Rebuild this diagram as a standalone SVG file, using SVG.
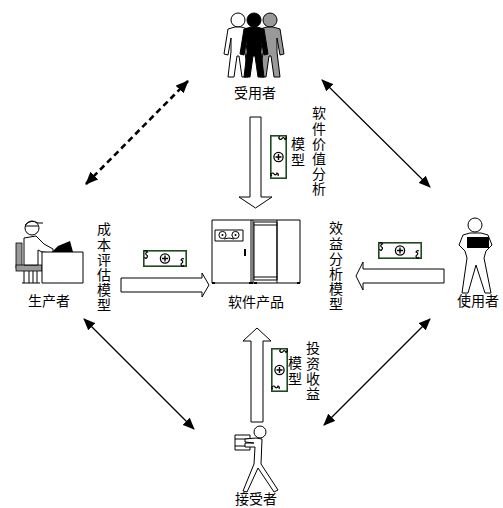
<svg xmlns="http://www.w3.org/2000/svg" xmlns:xlink="http://www.w3.org/1999/xlink" width="503" height="508" viewBox="0 0 503 508">
  <style>
    .lbl { font-family: "Noto Sans CJK SC", "Noto Sans", sans-serif; font-size: 14px; fill: #000; }
    .mid { text-anchor: middle; }
    .vert { writing-mode: vertical-rl; text-anchor: start; letter-spacing: 1.2px; }
    .ln { fill: none; stroke: #000; stroke-width: 1.2; }
    .dash { fill: none; stroke: #000; stroke-width: 2.6; stroke-dasharray: 6 4; }
    .hollow { fill: #fff; stroke: #000; stroke-width: 1; }
    .fig { stroke: #000; stroke-width: 1; stroke-linejoin: round; }
  </style>
  <defs>
    <marker id="tip" viewBox="0 0 12 10" refX="11" refY="5" markerWidth="12" markerHeight="10" markerUnits="userSpaceOnUse" orient="auto-start-reverse">
      <path d="M0,0 L12,5 L0,10 Z" fill="#000"/>
    </marker>
    <marker id="tipBig" viewBox="0 0 13 11" refX="12" refY="5.5" markerWidth="13" markerHeight="11" markerUnits="userSpaceOnUse" orient="auto-start-reverse">
      <path d="M0,0 L13,5.5 L0,11 Z" fill="#000"/>
    </marker>
    <!-- banknote, 44 x 17 -->
    <g id="bill">
      <rect x="0.8" y="0.8" width="42.4" height="15.4" fill="#fff" stroke="#1f4a1f" stroke-width="1.6"/>
      <circle cx="22" cy="8.5" r="4.6" fill="#fff" stroke="#000" stroke-width="1.3"/>
      <path d="M22,5.5 V11.5 M19,8.5 H25" stroke="#000" stroke-width="1.4"/>
      <path d="M1.5,1 q2,-1 3,1 q-3,1 -1,3 q2,1 0,3 q-1,1 -2,-1" fill="none" stroke="#000" stroke-width="1.2"/>
      <path d="M41,9 q-2,-1 -3,1 q3,1 1,3 q-2,1 0,3 q1,1 2,-1" fill="none" stroke="#000" stroke-width="1.2"/>
    </g>
    <!-- standing figure, head centre at 0,0 -->
    <path id="stander" d="M-3,7 L3,7 L10,9 L14,34 L10,35 L7,18 L7,32 L10,57 L4,57 L1,36 L-1,36 L-4,57 L-10,57 L-7,32 L-7,18 L-10,35 L-14,34 L-10,9 Z"/>
  </defs>

  <!-- connectors -->
  <g id="connectors">
    <line class="dash" x1="86" y1="184" x2="188" y2="81" marker-start="url(#tipBig)" marker-end="url(#tipBig)"/>
    <line class="ln" x1="322" y1="80" x2="430" y2="187" marker-start="url(#tip)" marker-end="url(#tip)"/>
    <line class="ln" x1="84" y1="319" x2="194" y2="429" marker-start="url(#tip)" marker-end="url(#tip)"/>
    <line class="ln" x1="430" y1="319" x2="324" y2="425" marker-start="url(#tip)" marker-end="url(#tip)"/>

    <!-- hollow flow arrows -->
    <path class="hollow" d="M250,117 H261 V197 H272 L255.5,208 L239,197 H250 Z"/>
    <path class="hollow" d="M251,422 H263 V341 H271 L257,328 L243,341 H251 Z"/>
    <path class="hollow" d="M121,278 H202 V273 L209,285 L202,297 V292 H121 Z"/>
    <path class="hollow" d="M444,269 H363 V262 L356,276 L363,290 V283 H444 Z"/>

    <!-- banknotes -->
    <use xlink:href="#bill" transform="translate(287,135) rotate(90)"/>
    <use xlink:href="#bill" transform="translate(288,348) rotate(90)"/>
    <use xlink:href="#bill" transform="translate(143,250)"/>
    <use xlink:href="#bill" transform="translate(378,242)"/>

    <!-- flow labels -->
    <text class="lbl vert" x="319" y="106">软件价值分析</text>
    <text class="lbl vert" x="298" y="137">模型</text>
    <text class="lbl vert" x="104" y="222">成本评估模型</text>
    <text class="lbl vert" x="336" y="221">效益分析模型</text>
    <text class="lbl vert" x="313" y="341">投资收益</text>
    <text class="lbl vert" x="295" y="356">模型</text>
  </g>

  <!-- customers (top) -->
  <g id="customers">
    <g transform="translate(270,20)">
      <circle class="fig" r="7" fill="#999"/>
      <use xlink:href="#stander" class="fig" fill="#999"/>
    </g>
    <g transform="translate(238,20)">
      <circle class="fig" r="7" fill="#fff"/>
      <use xlink:href="#stander" class="fig" fill="#fff"/>
    </g>
    <g transform="translate(254,20)">
      <circle class="fig" r="7" fill="#000"/>
      <use xlink:href="#stander" class="fig" fill="#000"/>
    </g>
    <text class="lbl mid" x="255" y="98">受用者</text>
  </g>

  <!-- producer (left) -->
  <g id="producer">
    <!-- chair -->
    <rect x="16" y="243" width="6" height="25" fill="#999" stroke="#000" stroke-width="0.8"/>
    <rect x="16" y="265" width="26" height="6" fill="#999" stroke="#000" stroke-width="0.8"/>
    <path class="fig" fill="#fff" d="M24,271 V283 M29,271 V283 M33,271 V283 M37,271 V283 M22,283 H40"/>
    <!-- seated body and arm -->
    <path class="fig" fill="#fff" d="M24,238 L36,236 L44,244 L53,249 L53,253 L42,252 L38,250 L38,265 L24,265 Z"/>
    <!-- head with cap -->
    <circle class="fig" cx="32" cy="228" r="7" fill="#fff"/>
    <path class="fig" fill="none" d="M25,225 Q31,219 38,223 L43,223"/>
    <path class="fig" fill="none" d="M25,226 H38"/>
    <!-- desk -->
    <rect class="fig" x="42" y="252" width="41" height="31" fill="#fff"/>
    <!-- terminal -->
    <path d="M52,252 L58,246 L70,241 L73,252 Z" fill="#000"/>
    <text class="lbl mid" x="49" y="306">生产者</text>
  </g>

  <!-- software product (centre) -->
  <g id="product">
    <rect class="fig" x="212" y="220" width="88" height="63" fill="#fff"/>
    <line class="fig" x1="251" y1="220" x2="251" y2="283"/>
    <line class="fig" x1="253" y1="220" x2="253" y2="283"/>
    <line class="fig" x1="277" y1="220" x2="277" y2="283"/>
    <rect class="fig" x="254" y="222" width="23" height="58" fill="none"/>
    <line class="fig" x1="254" y1="225" x2="277" y2="225"/>
    <line class="fig" x1="254" y1="277" x2="277" y2="277"/>
    <!-- tape window -->
    <rect class="fig" x="215" y="230" width="28" height="11" fill="#fff"/>
    <circle class="fig" cx="222.5" cy="235" r="3.6" fill="#fff"/>
    <circle class="fig" cx="235.5" cy="235" r="3.6" fill="#fff"/>
    <circle cx="222.5" cy="235" r="1" fill="#000"/>
    <circle cx="235.5" cy="235" r="1" fill="#000"/>
    <path class="fig" fill="none" d="M224,239 L229,238 L234,239"/>
    <rect x="244" y="249" width="2" height="7" fill="#000"/>
    <path d="M212,283 h3 M249,283 h4 M254,283 h3 M297,283 h3" stroke="#000" stroke-width="2"/>
    <text class="lbl mid" x="256" y="307">软件产品</text>
  </g>

  <!-- user (right) -->
  <g id="user">
    <circle class="fig" cx="475" cy="225" r="7" fill="#fff"/>
    <path class="fig" fill="#fff" d="M470,233 L481,233 L488,235 L492,245 L486,251 L484,258 L491,293 L485,293 L476,265 L468,293 L462,293 L467,258 L465,251 L459,245 L463,235 Z"/>
    <rect x="467" y="237" width="22" height="11" fill="#000"/>
    <text class="lbl mid" x="478" y="306">使用者</text>
  </g>

  <!-- receiver (bottom) -->
  <g id="receiver">
    <circle class="fig" cx="260" cy="432" r="6" fill="#fff"/>
    <path class="fig" fill="#fff" d="M235,435 H250 V450 H235 Z"/>
    <path class="fig" fill="none" d="M235,439 H250 M235,446 H250"/>
    <path class="fig" fill="#fff" d="M256,438 L262,439 L261,464 L278,490 L274,492 L258,468 L247,492 L243,491 L254,464 L255,447 L245,447 L245,443 L254,443 L245,442 L245,439 Z"/>
    <text class="lbl mid" x="256" y="504">接受者</text>
  </g>
</svg>
